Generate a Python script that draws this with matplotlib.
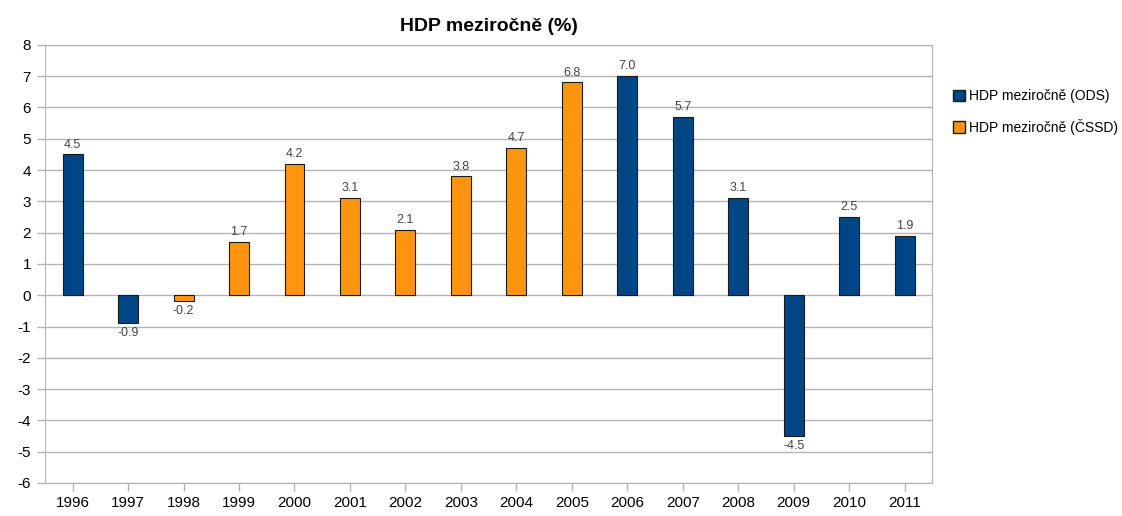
import numpy as np
import matplotlib.pyplot as plt
from matplotlib.patches import Patch

plt.rcParams['font.family'] = ['Liberation Sans', 'DejaVu Sans']
plt.rcParams['axes.unicode_minus'] = False

roky = ['1996', '1997', '1998', '1999', '2000', '2001', '2002', '2003',
        '2004', '2005', '2006', '2007', '2008', '2009', '2010', '2011']
hdp = [4.5, -0.9, -0.2, 1.7, 4.2, 3.1, 2.1, 3.8, 4.7, 6.8, 7.0, 5.7, 3.1, -4.5, 2.5, 1.9]
vlada = ['ODS', 'ODS', 'ČSSD', 'ČSSD', 'ČSSD', 'ČSSD', 'ČSSD', 'ČSSD',
         'ČSSD', 'ČSSD', 'ODS', 'ODS', 'ODS', 'ODS', 'ODS', 'ODS']

barvy = {'ODS': '#004586', 'ČSSD': '#ff950e'}

fig = plt.figure(figsize=(11.22, 5.16), dpi=100)
ax = fig.add_axes([0.040, 0.064, 0.791, 0.849])

x = np.arange(len(roky))
ax.bar(x, hdp, width=0.36, color=[barvy[v] for v in vlada],
       edgecolor='#1a1a1a', linewidth=0.8, zorder=3)

for xi, v in zip(x, hdp):
    if v >= 0:
        ax.text(xi, v + 0.12, f'{v:.1f}', ha='center', va='bottom', fontsize=9, color='#444444')
    else:
        ax.text(xi, v - 0.12, f'{v:.1f}', ha='center', va='top', fontsize=9, color='#444444')

ax.set_xlim(-0.5, len(roky) - 0.5)
ax.set_ylim(-6, 8)
ax.set_yticks(range(-6, 9))
ax.set_xticks(x)
ax.set_xticklabels(roky)
ax.tick_params(axis='both', labelsize=11, color='#b3b3b3', length=6, width=1)
ax.tick_params(axis='y', pad=4)
ax.grid(axis='y', color='#b3b3b3', linewidth=1, zorder=0)
for s in ax.spines.values():
    s.set_color('#b3b3b3')

fig.suptitle('HDP meziročně (%)', x=0.436, y=0.965, fontsize=14, fontweight='bold')

handles = [Patch(facecolor=barvy['ODS'], edgecolor='#1a1a1a', label='HDP meziročně (ODS)'),
           Patch(facecolor=barvy['ČSSD'], edgecolor='#1a1a1a', label='HDP meziročně (ČSSD)')]
fig.legend(handles=handles, loc='upper left', bbox_to_anchor=(0.849, 0.827), frameon=False,
           borderpad=0, borderaxespad=0, fontsize=10, handlelength=0.9, handleheight=0.9,
           handletextpad=0.3, labelspacing=1.1)

fig.savefig('out.png', dpi=100)
